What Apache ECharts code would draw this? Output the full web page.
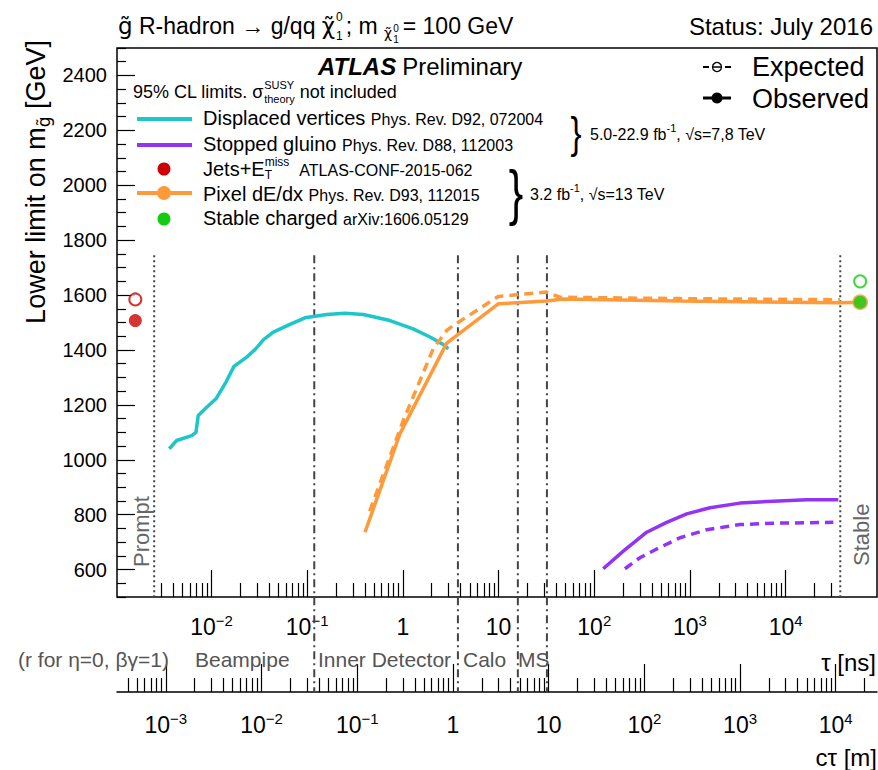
<!DOCTYPE html>
<html><head><meta charset="utf-8">
<script src="https://cdn.jsdelivr.net/npm/echarts@6/dist/echarts.min.js"></script>
<style>html,body{margin:0;padding:0;background:#fff}#c{width:878px;height:770px}</style>
</head><body><div id="c"></div>
<script>
// ---------------- data ----------------
const TAU_MIN = 1.03e-3, TAU_MAX = 9.0e4;      // ns, frame range
const C_M_PER_NS = 0.2998;                      // c tau [m] = c * tau [ns]
const M_MIN = 500, M_MAX = 2500;

// Displaced vertices (observed)
const dvTau  = [0.00362,0.00433,0.00621,0.00689,0.00727,0.00891,0.01115,0.01418,0.01719,0.02333,0.02849,0.03478,0.04426,0.0661,0.0948,0.160,0.248,0.386,0.733,1.28,1.92,2.64,2.98];
const dvMass = [1040,1070,1088,1100,1161,1191,1222,1283,1340,1374,1401,1437,1465,1493,1517,1529,1534,1529,1507,1477,1447,1420,1404];
// Stopped gluino
const sgObsTau  = [124,201,353,571,925,1619,3333,7430,16560,35480];
const sgObsMass = [603,667,736,772,803,825,842,849,854,854];
const sgExpTau  = [209,300,449,787,1493,3333,8054,31480];
const sgExpMass = [603,643,675,716,745,764,769,772];
// Pixel dE/dx
const pxObsTau  = [0.402,0.933,2.87,9.93,31.8,47.4,787,37000,60000];
const pxObsMass = [736,1095,1425,1568,1578,1586,1578,1572,1574];
const pxExpTau  = [0.45,1.01,2.08,2.87,3.37,9.93,31.8,43.6,787,37000];
const pxExpMass = [813,1143,1405,1471,1489,1595,1611,1592,1587,1583];
// Jets+MET (prompt) and Stable charged (stable) points
const promptTau = 1.6e-3;
const jetsObs = 1507, jetsExp = 1584;
const stableTau = 6.0e4;
const stableObs = 1574, stableExp = 1650;
// detector boundaries (tau in ns)
const promptLine = 2.52e-3, stableLine = 3.72e4;
const regionTau = [0.1186, 3.76, 15.9, 32.0];   // Beampipe, Inner Detector, Calo, MS
const regionNames = ['Beampipe','Inner Detector','Calo','MS'];
// ticks
const tauMajor = [1e-2,1e-1,1,10,1e2,1e3,1e4];
const ctauMajor = [1e-3,1e-2,1e-1,1,10,1e2,1e3,1e4];
const massMajor = [600,800,1000,1200,1400,1600,1800,2000,2200,2400];

// colours
const CYAN='#1cc6c9', PURPLE='#9233f5', ORANGE='#ff9a3a', RED='#cc0000', GREEN='#11cc11', GRAY='#444';

// --------------- helpers ---------------
function logMinors(lo, hi){ const out=[]; for(let e=-6;e<=6;e++){ for(let k=2;k<=9;k++){ const v=+(k*Math.pow(10,e)).toPrecision(3); if(v>=lo&&v<=hi) out.push(v);} } return out; }
function linMinors(lo, hi, step, majors){ const out=[]; for(let v=lo; v<=hi; v+=step){ if(majors.indexOf(v)<0) out.push(v);} return out; }
const pairs = (xs, ys) => xs.map((x,i)=>[x, ys[i]]);

const FONT = '"Liberation Sans", Arial, Helvetica, sans-serif';
const DJ = '"DejaVu Sans", sans-serif';
const mctx = document.createElement('canvas').getContext('2d');
function tw(t, s, w, st, fam){ mctx.font = (st||'normal')+' '+(w||'normal')+' '+s+'px '+(fam||FONT); return mctx.measureText(t).width; }
function T(x, y, text, size, o){ o=o||{};
  return { type:'text', x:x, y:y, rotation:o.rot||0, scaleX:o.sx||1, scaleY:o.sy||1, z:100, silent:true,
    style:{ text:text, fill:o.color||'#000', fontSize:size, fontFamily:o.family||FONT, fontWeight:o.weight||'normal',
      fontStyle:o.style||'normal', align:o.align||'left', verticalAlign:o.valign||'middle',
      textAlign:o.align||'left', textVerticalAlign:o.valign||'middle', rich:o.rich } };
}
function seq(x, y, parts, color){ const els=[]; let cx=x;
  parts.forEach(p=>{
    if(p.stack){ let mw=0; p.stack.forEach(q=>{ els.push(T(cx, y+q.dy, q.t, q.s, {color:color})); mw=Math.max(mw, tw(q.t,q.s)); }); cx+=mw; }
    else { els.push(T(cx, y+(p.dy||0), p.t, p.s, {color:color, weight:p.w, style:p.st, family:p.f})); cx+=tw(p.t,p.s,p.w,p.st,p.f); }
    if(p.gap) cx+=p.gap;
  });
  return els;
}
function L(x1,y1,x2,y2,color,w,dash){ return {type:'line', z:100, silent:true, shape:{x1,y1,x2,y2}, style:{stroke:color, lineWidth:w, lineDash:dash||null}}; }
function C(cx,cy,r,fill,stroke,lw){ return {type:'circle', z:101, silent:true, shape:{cx,cy,r}, style:{fill:fill, stroke:stroke||null, lineWidth:lw||0}}; }

function expLabel(v){ const e=Math.round(Math.log10(v)); if(e===0) return '{b|1}'; if(e===1) return '{b|10}';
  return '{b|10}{s|'+(e<0?'−'+(-e):e)+'}'; }
const labRich = { b:{fontSize:23, lineHeight:28, fontFamily:FONT, color:'#000'}, s:{fontSize:15, lineHeight:15, verticalAlign:'top', fontFamily:FONT, color:'#000'} };

// --------------- chart ---------------
const chart = echarts.init(document.getElementById('c'), null, {renderer:'svg'});
const tauMinor = logMinors(2.6e-3, 3.8e4);
const ctauMin = TAU_MIN*C_M_PER_NS, ctauMax = TAU_MAX*C_M_PER_NS;
const ctauMinor = logMinors(ctauMin, ctauMax);
const massMinor = linMinors(M_MIN, M_MAX, 50, massMajor);

const tickStyle = {color:'#000', width:1.2};
const LINE_TOP = 1745, LINE_BOTTOM_FRAME = M_MIN, LINE_BOTTOM_AXIS = 152;

const series = [];
// detector boundary lines
series.push({type:'line', name:'prompt', data:[[promptLine,LINE_TOP],[promptLine,LINE_BOTTOM_FRAME]], symbol:'none', clip:false, silent:true, z:1, lineStyle:{color:GRAY, width:2, type:[2,3]}});
series.push({type:'line', name:'stable', data:[[stableLine,LINE_TOP],[stableLine,LINE_BOTTOM_FRAME]], symbol:'none', clip:false, silent:true, z:1, lineStyle:{color:GRAY, width:2, type:[2,3]}});
regionTau.forEach((t,i)=>series.push({type:'line', name:regionNames[i], data:[[t,LINE_TOP],[t,LINE_BOTTOM_AXIS]], symbol:'none', clip:false, silent:true, z:1, lineStyle:{color:GRAY, width:2, type:[8,4,2,4]}}));
// limits
series.push({type:'line', name:'Displaced vertices', data:pairs(dvTau,dvMass), symbol:'none', lineStyle:{color:CYAN, width:3.5}, z:3});
series.push({type:'line', name:'Stopped gluino obs', data:pairs(sgObsTau,sgObsMass), symbol:'none', lineStyle:{color:PURPLE, width:3.5}, z:3});
series.push({type:'line', name:'Stopped gluino exp', data:pairs(sgExpTau,sgExpMass), symbol:'none', lineStyle:{color:PURPLE, width:3.5, type:[9,6]}, z:3});
series.push({type:'line', name:'Pixel exp', data:pairs(pxExpTau,pxExpMass), symbol:'none', lineStyle:{color:ORANGE, width:3.5, type:[9,6]}, z:3});
series.push({type:'line', name:'Pixel obs', data:pairs(pxObsTau,pxObsMass), symbol:'none', lineStyle:{color:ORANGE, width:3.5}, z:4});
series.push({type:'scatter', name:'Pixel stable', data:[[pxObsTau[pxObsTau.length-1], pxObsMass[pxObsMass.length-1]]], symbol:'circle', symbolSize:16, itemStyle:{color:ORANGE}, z:5});
series.push({type:'scatter', name:'Stable obs', data:[[stableTau,stableObs]], symbol:'circle', symbolSize:13, itemStyle:{color:GREEN}, z:6});
series.push({type:'scatter', name:'Stable exp', data:[[stableTau,stableExp]], symbol:'emptyCircle', symbolSize:12, itemStyle:{color:GREEN, borderWidth:1.5}, z:6});
series.push({type:'scatter', name:'Jets obs', data:[[promptTau,jetsObs]], symbol:'circle', symbolSize:13, itemStyle:{color:RED}, z:6});
series.push({type:'scatter', name:'Jets exp', data:[[promptTau,jetsExp]], symbol:'emptyCircle', symbolSize:12, itemStyle:{color:RED, borderWidth:1.5}, z:6});
series.forEach(s=>{ s.xAxisIndex=0; s.yAxisIndex=0; s.animation=false; });

// --------------- texts ---------------
const G = [];
// title
G.push(...seq(118, 26, [
  {t:'g̃', s:23, f:DJ},
  {t:' R-hadron → g/qq ', s:23},
  {t:'χ̃', s:23, f:DJ, gap:1},
  {stack:[{t:'0', s:12, dy:-9},{t:'1', s:12, dy:10}], gap:3},
  {t:'; m ', s:23},
  {t:'χ̃', s:14, dy:7, f:DJ, gap:1},
  {stack:[{t:'0', s:10, dy:2},{t:'1', s:10, dy:13}], gap:4},
  {t:'= 100 GeV', s:23}
]));
G.push(T(873, 26, 'Status: July 2016', 24, {align:'right'}));
// ATLAS label
G.push(...seq(318, 66, [{t:'ATLAS', s:24, w:'bold', st:'italic', gap:6},{t:'Preliminary', s:24}]));
G.push(...seq(133, 92, [{t:'95% CL limits. σ', s:18},{stack:[{t:'SUSY', s:11, dy:-7},{t:'theory', s:11, dy:7}], gap:5},{t:'not included', s:18}]));
// legend entries
G.push(L(137,119,192,119,CYAN,4)); G.push(L(137,145,192,145,PURPLE,4));
G.push(C(164,169,6.5,RED)); G.push(L(137,193,192,193,ORANGE,4)); G.push(C(164,193,7,ORANGE)); G.push(C(164,219,6.5,GREEN));
G.push(...seq(203, 118, [{t:'Displaced vertices ', s:20},{t:'Phys. Rev. D92, 072004', s:16, dy:1.5}]));
G.push(...seq(203, 144, [{t:'Stopped gluino ', s:20},{t:'Phys. Rev. D88, 112003', s:16, dy:1.5}]));
G.push(...seq(203, 169, [{t:'Jets+E', s:20},{stack:[{t:'miss', s:12, dy:-7},{t:'T', s:12, dy:6}], gap:10},{t:'ATLAS-CONF-2015-062', s:16, dy:1.5}]));
G.push(...seq(203, 194, [{t:'Pixel dE/dx ', s:20},{t:'Phys. Rev. D93, 112015', s:16, dy:1.5}]));
G.push(...seq(203, 218, [{t:'Stable charged ', s:20},{t:'arXiv:1606.05129', s:16, dy:1.5}]));
// braces & lumi
G.push(T(576, 133, '}', 44, {align:'center', sx:0.75}));
G.push(T(516, 192, '}', 62, {align:'center', sx:0.7}));
G.push(...seq(590, 134, [{t:'5.0-22.9 fb', s:16},{t:'-1', s:11, dy:-6},{t:', √s=7,8 TeV', s:16}]));
G.push(...seq(530, 194, [{t:'3.2 fb', s:16},{t:'-1', s:11, dy:-6},{t:', √s=13 TeV', s:16}]));
// Expected / Observed
G.push(L(703,67,709,67,'#000',2)); G.push(L(712,67,722,67,'#000',1.5)); G.push(L(725,67,731,67,'#000',2)); G.push(C(717,67,4.5,'rgba(0,0,0,0)','#000',1.3));
G.push(L(703,98,731,98,'#000',3)); G.push(C(717,98,5.5,'#000'));
G.push(T(752, 67, 'Expected', 27)); G.push(T(752, 99, 'Observed', 27));
// axis titles
G.push(T(36, 40, '{n|Lower limit on m}{g|g̃}{n| [GeV]}', 27, {rot:Math.PI/2, align:'right',
  rich:{n:{fontSize:27, lineHeight:32, fontFamily:FONT, color:'#000'}, g:{fontSize:17, lineHeight:17, verticalAlign:'bottom', fontFamily:DJ, color:'#000'}}}));
G.push(T(876, 662, 'τ [ns]', 24, {align:'right'}));
G.push(T(877, 757, 'cτ [m]', 24, {align:'right'}));
// Prompt / Stable
G.push(T(141, 567, 'Prompt', 22, {rot:Math.PI/2, color:'#666'}));
G.push(T(861, 566, 'Stable', 22, {rot:Math.PI/2, color:'#666'}));
// region labels
const RG = '#555';
G.push(T(18, 659, '(r for η=0, βγ=1)', 21, {color:RG}));
G.push(T(195, 659, regionNames[0], 21, {color:RG}));
G.push(T(318, 659, regionNames[1], 21, {color:RG}));
G.push(T(463, 659, regionNames[2], 21, {color:RG}));
G.push(T(518, 659, regionNames[3], 21, {color:RG}));

function xAx(grid, min, max, ticks, len, labels, margin, line){
  return {type:'log', logBase:10, gridIndex:grid, min:min, max:max, position:'bottom',
    axisLine:{show:!!line, onZero:false, lineStyle:{color:'#000', width:1.5}},
    axisTick:{show:true, inside:true, length:len, lineStyle:tickStyle, customValues:ticks},
    axisLabel:labels ? {show:true, customValues:labels, margin:margin, formatter:expLabel, rich:labRich} : {show:false},
    splitLine:{show:false}, minorTick:{show:false}, minorSplitLine:{show:false}};
}
function yAx(grid, ticks, len, labels, show){
  return {type:'value', gridIndex:grid, min:M_MIN, max:M_MAX, position:'left', show:show!==false,
    axisLine:{show:false}, splitLine:{show:false},
    axisTick:{show:true, inside:true, length:len, lineStyle:tickStyle, customValues:ticks},
    axisLabel:labels ? {show:true, customValues:labels, margin:10, fontSize:20, color:'#000', fontFamily:FONT, formatter:v=>String(v)} : {show:false}};
}

chart.setOption({
  animation:false,
  backgroundColor:'#fff',
  grid:[
    {left:117, top:48, width:760, height:549, show:true, borderColor:'#000', borderWidth:1.5, backgroundColor:'transparent', containLabel:false},
    {left:117, top:600, width:760, height:92, show:false, containLabel:false}
  ],
  xAxis:[
    xAx(0, TAU_MIN, TAU_MAX, tauMajor, 27, tauMajor, 16, false),
    xAx(0, TAU_MIN, TAU_MAX, tauMinor, 14, null, 0, false),
    xAx(1, ctauMin, ctauMax, ctauMajor, 28, ctauMajor, 19, true),
    xAx(1, ctauMin, ctauMax, ctauMinor, 14, null, 0, false)
  ],
  yAxis:[
    yAx(0, massMajor, 18, massMajor),
    yAx(0, massMinor, 9, null),
    {type:'value', gridIndex:1, min:0, max:1, show:false}
  ],
  series: series,
  graphic: G
});
</script></body></html>
